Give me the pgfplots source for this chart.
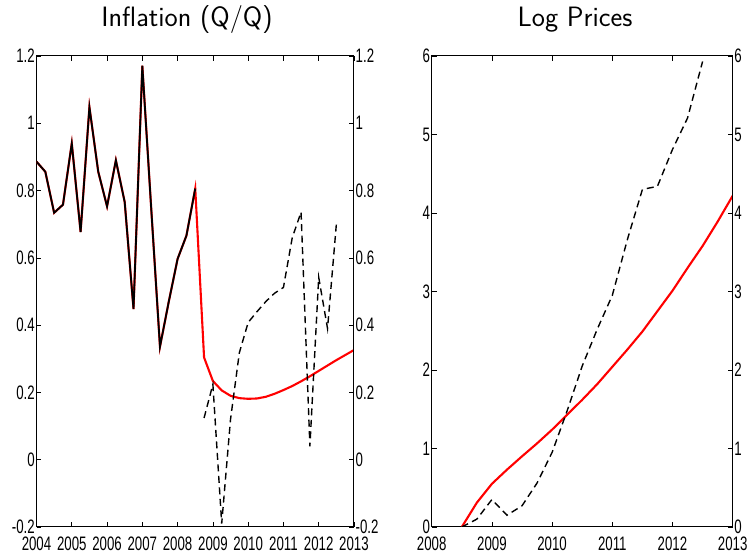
\documentclass[border=0pt]{standalone}
\usepackage{fontspec}
\usepackage{pgfplots}
\pgfplotsset{compat=1.18}
\newfontfamily\tickfont[FakeStretch=0.68]{Liberation Sans}

\pgfplotsset{
  mat/.style={
    scale only axis, height=471pt,
    axis line style={line width=1pt},
    tick align=inside, major tick length=5pt,
    tick style={black, line width=0.6pt},
    tick label style={font=\fontsize{19.5}{19.5}\selectfont\tickfont},
    /pgf/number format/assume math mode=true,
    /pgf/number format/1000 sep={},
    yticklabel style={inner sep=1.5pt},
    xticklabel style={inner sep=1.5pt, yshift=-8pt},
  },
  redl/.style={red, line width=2.1pt},
  blkl/.style={black, line width=1.8pt},
  dashl/.style={black, line width=1.4pt, dash pattern=on 7pt off 4.5pt},
}

\pgfplotstableread{
x y
2004.00 0.886
2004.25 0.856
2004.50 0.734
2004.75 0.758
2005.00 0.940
2005.25 0.677
2005.50 1.048
2005.75 0.856
2006.00 0.753
2006.25 0.890
2006.50 0.766
2006.75 0.448
2007.00 1.171
2007.25 0.750
2007.50 0.336
2007.75 0.470
2008.00 0.597
2008.25 0.666
2008.50 0.806
}\histinf

\pgfplotstableread{
x y
2004.00 0.886
2004.25 0.856
2004.50 0.734
2004.75 0.758
2005.00 0.940
2005.25 0.677
2005.50 1.048
2005.75 0.856
2006.00 0.753
2006.25 0.890
2006.50 0.766
2006.75 0.448
2007.00 1.171
2007.25 0.750
2007.50 0.336
2007.75 0.470
2008.00 0.597
2008.25 0.666
2008.50 0.806
2008.75 0.304
2009.00 0.234
2009.25 0.206
2009.50 0.190
2009.75 0.183
2010.00 0.181
2010.25 0.182
2010.50 0.187
2010.75 0.196
2011.00 0.207
2011.25 0.219
2011.50 0.233
2011.75 0.248
2012.00 0.264
2012.25 0.280
2012.50 0.296
2012.75 0.311
2013.00 0.326
}\forinf

\pgfplotstableread{
x y
2008.75 0.124
2009.00 0.224
2009.25 -0.190
2009.50 0.120
2009.75 0.318
2010.00 0.408
2010.25 0.440
2010.50 0.470
2010.75 0.495
2011.00 0.512
2011.25 0.660
2011.50 0.736
2011.75 0.040
2012.00 0.542
2012.25 0.390
2012.50 0.700
}\actinf

\pgfplotstableread{
x y
2008.50 0
2008.75 0.31
2009.00 0.55
2009.25 0.73
2009.50 0.90
2009.75 1.065
2010.00 1.24
2010.25 1.43
2010.50 1.62
2010.75 1.82
2011.00 2.04
2011.25 2.26
2011.50 2.49
2011.75 2.75
2012.00 3.01
2012.25 3.30
2012.50 3.58
2012.75 3.89
2013.00 4.22
}\forprice

\pgfplotstableread{
x y
2008.50 0
2008.75 0.10
2009.00 0.35
2009.25 0.15
2009.50 0.27
2009.75 0.56
2010.00 0.95
2010.25 1.48
2010.50 2.05
2010.75 2.52
2011.00 2.95
2011.25 3.66
2011.50 4.30
2011.75 4.34
2012.00 4.81
2012.25 5.21
2012.50 5.93
}\actprice

\begin{document}
\begin{tikzpicture}
\useasboundingbox (0,-29pt) rectangle (748pt,527pt);

% left panel
\begin{axis}[mat, at={(36.5pt,0pt)}, anchor=south west, width=317.5pt,
  xmin=2004, xmax=2013, ymin=-0.2, ymax=1.2,
  xtick={2004,2005,...,2013}, ytick={-0.2,0,0.2,0.4,0.6,0.8,1,1.2},
  xtick pos=both, ytick pos=both, xticklabel pos=bottom, yticklabel pos=left]
  \addplot[redl] table {\forinf};
  \addplot[blkl] table {\histinf};
  \addplot[dashl] table {\actinf};
\end{axis}
\begin{axis}[mat, at={(36.5pt,0pt)}, anchor=south west, width=317.5pt,
  xmin=2004, xmax=2013, ymin=-0.2, ymax=1.2,
  ytick={-0.2,0,0.2,0.4,0.6,0.8,1,1.2},
  axis x line=none, axis y line*=right]
\end{axis}
\node[anchor=base, font=\fontsize{28}{32}\sffamily] at (187pt,500pt) {Inflation (Q/Q)};

% right panel
\begin{axis}[mat, at={(431.7pt,0pt)}, anchor=south west, width=301pt,
  xmin=2008, xmax=2013, ymin=0, ymax=6,
  xtick={2008,2009,...,2013}, ytick={0,1,...,6},
  xtick pos=both, ytick pos=both, xticklabel pos=bottom, yticklabel pos=left]
  \addplot[redl] table {\forprice};
  \addplot[dashl] table {\actprice};
\end{axis}
\begin{axis}[mat, at={(431.7pt,0pt)}, anchor=south west, width=301pt,
  xmin=2008, xmax=2013, ymin=0, ymax=6,
  ytick={0,1,...,6},
  axis x line=none, axis y line*=right]
\end{axis}
\node[anchor=base, font=\fontsize{28}{32}\sffamily] at (575pt,500pt) {Log Prices};
\end{tikzpicture}
\end{document}
